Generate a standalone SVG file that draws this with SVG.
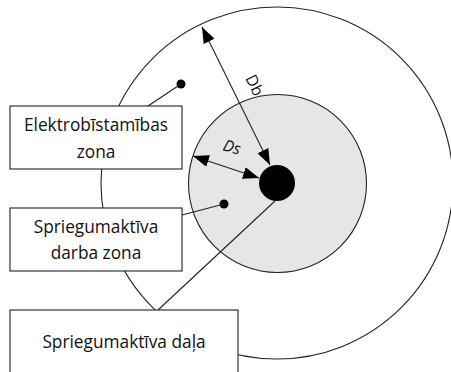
<svg xmlns="http://www.w3.org/2000/svg" width="451" height="372" viewBox="0 0 451 372">
<style>
.ln{stroke:#222;stroke-width:1.1;fill:none}
.box{fill:#fff;stroke:#222;stroke-width:1.1}
.t{font-family:"Open Sans","Liberation Sans",sans-serif;font-size:17.3px;fill:#111;text-anchor:middle}
.lbl{font-family:"Open Sans","Liberation Sans",sans-serif;font-size:16px;fill:#111}
</style>
<defs>
<marker id="ah" viewBox="0 0 16 12" markerWidth="16" markerHeight="12" refX="16" refY="6" orient="auto-start-reverse" markerUnits="userSpaceOnUse">
<path d="M0,0 L16,6 L0,12 z" fill="#000"/>
</marker>
</defs>
<rect width="451" height="372" fill="#fff"/>
<g id="zones">
<circle id="outer" cx="277" cy="183" r="176" fill="#fff" stroke="#222" stroke-width="1.1"/>
<text class="lbl" transform="translate(245,78) rotate(64)">Db</text>
<circle id="inner" cx="277.5" cy="183.5" r="89" fill="#e6e6e6" stroke="#222" stroke-width="1.1"/>
<text class="lbl" font-style="italic" transform="translate(222,150) rotate(16)">Ds</text>
<circle id="core" cx="277" cy="183" r="18" fill="#000"/>
</g>
<g id="connectors">
<line class="ln" x1="202" y1="27" x2="270" y2="165" marker-start="url(#ah)" marker-end="url(#ah)"/>
<line class="ln" x1="193" y1="156" x2="259" y2="178" marker-start="url(#ah)" marker-end="url(#ah)"/>
<circle cx="181" cy="84" r="4.5" fill="#000"/>
<line class="ln" x1="181" y1="84" x2="148" y2="106"/>
<circle cx="224" cy="204" r="4.5" fill="#000"/>
<line class="ln" x1="224" y1="204" x2="182" y2="215"/>
<line class="ln" x1="275" y1="201" x2="158" y2="310"/>
</g>
<g id="box1">
<rect class="box" x="10" y="106" width="172" height="63"/>
<text class="t" x="96" y="131">Elektrobīstamības</text>
<text class="t" x="96" y="158">zona</text>
</g>
<g id="box2">
<rect class="box" x="10" y="208" width="172" height="63"/>
<text class="t" x="96" y="233">Spriegumaktīva</text>
<text class="t" x="96" y="259">darba zona</text>
</g>
<g id="box3">
<rect class="box" x="10" y="310" width="228" height="75"/>
<text class="t" x="124" y="348">Spriegumaktīva daļa</text>
</g>
</svg>
